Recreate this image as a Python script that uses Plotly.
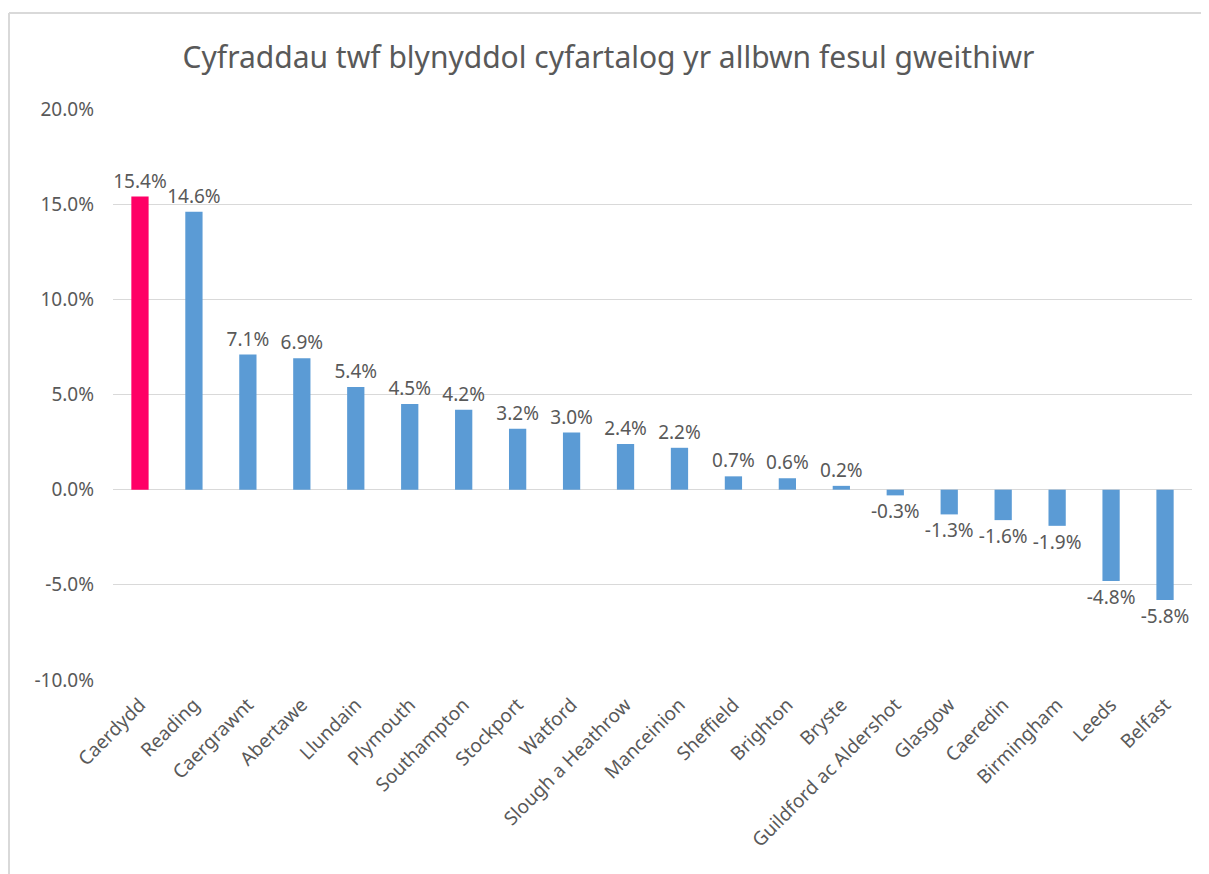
import plotly.graph_objects as go

# Average annual growth rate in output per worker, by city
cities = ["Caerdydd", "Reading", "Caergrawnt", "Abertawe", "Llundain", "Plymouth",
          "Southampton", "Stockport", "Watford", "Slough a Heathrow", "Manceinion",
          "Sheffield", "Brighton", "Bryste", "Guildford ac Aldershot", "Glasgow",
          "Caeredin", "Birmingham", "Leeds", "Belfast"]
growth = [15.4, 14.6, 7.1, 6.9, 5.4, 4.5, 4.2, 3.2, 3.0, 2.4, 2.2,
          0.7, 0.6, 0.2, -0.3, -1.3, -1.6, -1.9, -4.8, -5.8]
highlight = "Caerdydd"
y_ticks = [-10, -5, 0, 5, 10, 15, 20]

colors = ["#FF0066" if c == highlight else "#5B9BD5" for c in cities]
font_main = "Noto Sans, sans-serif"
grey = "#595959"

fig = go.Figure(go.Bar(
    x=cities, y=growth,
    marker=dict(color=colors, line=dict(width=0)),
    text=[f"{v:.1f}%" for v in growth],
    textposition="outside",
    constraintext="none",
    cliponaxis=False,
    textfont=dict(size=19, color=grey, family=font_main),
))

# sized so the page (with its 8px body margin) fits the window without scrollbars
fig.update_layout(
    width=1201, height=866,
    margin=dict(l=105, r=17, t=101, b=194),
    paper_bgcolor="white", plot_bgcolor="white",
    bargap=0.68,
    showlegend=False,
    title=dict(text="Cyfraddau twf blynyddol cyfartalog yr allbwn fesul gweithiwr",
               x=0.5, xanchor="center", y=1 - 49 / 866, yanchor="middle",
               font=dict(size=30, color=grey, family=font_main)),
    font=dict(family=font_main, color=grey),
)
fig.update_yaxes(range=[-10, 20], tickvals=y_ticks,
                 ticktext=[f"{t:.1f}%" for t in y_ticks],
                 showgrid=True, gridcolor="#D9D9D9", gridwidth=1,
                 zeroline=True, zerolinecolor="#D9D9D9", zerolinewidth=1,
                 showline=False, ticks="", tickfont=dict(size=19, color=grey),
                 ticklabelstandoff=18)
fig.update_xaxes(tickangle=-45, showline=False, ticks="", showgrid=False,
                 tickfont=dict(size=19, color=grey), ticklabelstandoff=9)

# chart frame edges visible in the screenshot (top and left only)
frame = dict(color="#D9D9D9", width=2)
fig.add_shape(type="line", xref="paper", yref="paper",
              x0=-0.0964, x1=1.02, y0=1.168, y1=1.168, line=frame)
fig.add_shape(type="line", xref="paper", yref="paper",
              x0=-0.0964, x1=-0.0964, y0=-0.36, y1=1.168, line=frame)

fig.write_html("out.html")
